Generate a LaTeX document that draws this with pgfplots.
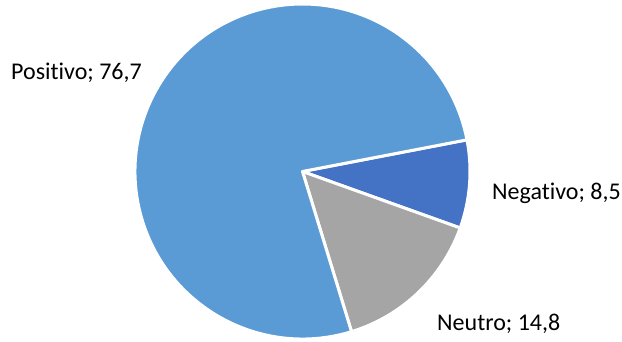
\documentclass[border=0pt]{standalone}
\usepackage{pgfplots}
\pgfplotsset{compat=1.18}
\usepackage{fontspec}
\setmainfont{Carlito}[Ligatures=NoCommon]
\definecolor{posc}{HTML}{5B9BD5}
\definecolor{negc}{HTML}{4472C4}
\definecolor{neuc}{HTML}{A5A5A5}
% data (percent)
\def\vneg{8.5}
\def\vneu{14.8}
\def\vpos{76.7}
\pgfmathsetmacro\aA{10.9}
\pgfmathsetmacro\aB{\aA-3.6*\vneg}
\pgfmathsetmacro\aC{\aB-3.6*\vneu}
\pgfmathsetmacro\aD{\aC-3.6*\vpos}
\begin{document}
\begin{tikzpicture}
\begin{axis}[
  scale only axis, width=622bp, height=342bp,
  xmin=0, xmax=622, ymin=0, ymax=342,
  hide axis, clip=false,
]
\fill[negc, draw=white, line width=3bp, line join=round]
  (axis cs:302.5,170.5) -- ++(\aA:167.5bp)
  arc[start angle=\aA, end angle=\aB, radius=167.5bp] -- cycle;
\fill[neuc, draw=white, line width=3bp, line join=round]
  (axis cs:302.5,170.5) -- ++(\aB:167.5bp)
  arc[start angle=\aB, end angle=\aC, radius=167.5bp] -- cycle;
\fill[posc, draw=white, line width=3bp, line join=round]
  (axis cs:302.5,170.5) -- ++(\aC:167.5bp)
  arc[start angle=\aC, end angle=\aD, radius=167.5bp] -- cycle;
\node[anchor=base west, inner sep=0pt, font=\fontsize{24bp}{28bp}\selectfont] at (axis cs:11,262) {Positivo; 76,7};
\node[anchor=base west, inner sep=0pt, font=\fontsize{24bp}{28bp}\selectfont] at (axis cs:492,142) {Negativo; 8,5};
\node[anchor=base west, inner sep=0pt, font=\fontsize{24bp}{28bp}\selectfont] at (axis cs:437,11.3) {Neutro; 14,8};
\end{axis}
\pgfresetboundingbox
\useasboundingbox (current axis.south west) rectangle (current axis.north east);
\end{tikzpicture}
\end{document}
